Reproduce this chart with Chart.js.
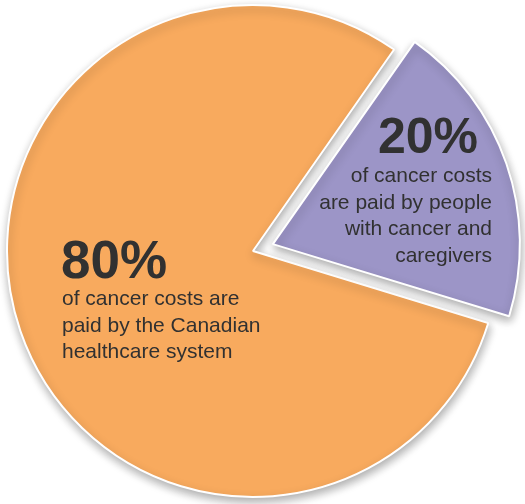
<!DOCTYPE html>
<html>
<head>
<meta charset="utf-8">
<script src="https://cdn.jsdelivr.net/npm/chart.js@4/dist/chart.umd.min.js"></script>
<style>
  html, body { margin: 0; padding: 0; background: #ffffff; }
  #wrap { width: 525px; height: 504px; position: relative; }
</style>
</head>
<body>
<div id="wrap"><canvas id="costChart"></canvas></div>
<script>
const categories = ["Canadian healthcare system", "People with cancer and caregivers"];
const shareValues = [80, 20];
const sliceColors = ["#f8aa5e", "#9c95c7"];
const sliceOffsets = [0, 84];

// caption lines printed under each big percentage
const captionLines = [
  ["of cancer costs are", "paid by the Canadian", "healthcare system"],
  ["of cancer costs", "are paid by people", "with cancer and", "caregivers"]
];

const textColor = "#313131";

// soft drop shadow behind the slices
const shadowPlugin = {
  id: "sliceShadow",
  beforeDatasetsDraw(chart) {
    const ctx = chart.ctx;
    ctx.save();
    ctx.shadowColor = "rgba(0,0,0,0.32)";
    ctx.shadowBlur = 10;
    ctx.shadowOffsetX = 1;
    ctx.shadowOffsetY = 4;
  },
  afterDatasetsDraw(chart) {
    chart.ctx.restore();
  }
};

// percentage + caption inside each slice
const captionPlugin = {
  id: "sliceCaptions",
  afterDraw(chart) {
    const ctx = chart.ctx;
    const arc = chart.getDatasetMeta(0).data[0];
    const cx = arc.x;
    const cy = arc.y;
    const lineH = 26.7;

    ctx.save();
    ctx.fillStyle = textColor;
    ctx.textBaseline = "alphabetic";

    // big slice, left aligned
    ctx.textAlign = "left";
    ctx.font = "bold 53px 'Liberation Sans', Arial, sans-serif";
    ctx.fillText(shareValues[0] + "%", cx - 192, cy + 27);
    ctx.font = "21px 'Liberation Sans', Arial, sans-serif";
    captionLines[0].forEach((line, i) => {
      ctx.fillText(line, cx - 191, cy + 54 + i * lineH);
    });

    // small slice, right aligned
    ctx.textAlign = "right";
    ctx.font = "bold 50px 'Liberation Sans', Arial, sans-serif";
    ctx.fillText(shareValues[1] + "%", cx + 225, cy - 98);
    ctx.font = "21px 'Liberation Sans', Arial, sans-serif";
    captionLines[1].forEach((line, i) => {
      ctx.fillText(line, cx + 239, cy - 69 + i * lineH);
    });
    ctx.restore();
  }
};

new Chart(document.getElementById("costChart"), {
  type: "pie",
  data: {
    labels: categories,
    datasets: [
      {
        data: shareValues,
        backgroundColor: sliceColors,
        borderColor: "#ffffff",
        borderWidth: 2,
        offset: sliceOffsets
      }
    ]
  },
  options: {
    responsive: true,
    maintainAspectRatio: false,
    animation: false,
    rotation: 107,
    radius: 246,
    layout: { padding: { left: 0, right: 19, top: 0, bottom: 2 } },
    plugins: {
      legend: { display: false },
      tooltip: { enabled: false }
    }
  },
  plugins: [shadowPlugin, captionPlugin]
});
</script>
</body>
</html>
